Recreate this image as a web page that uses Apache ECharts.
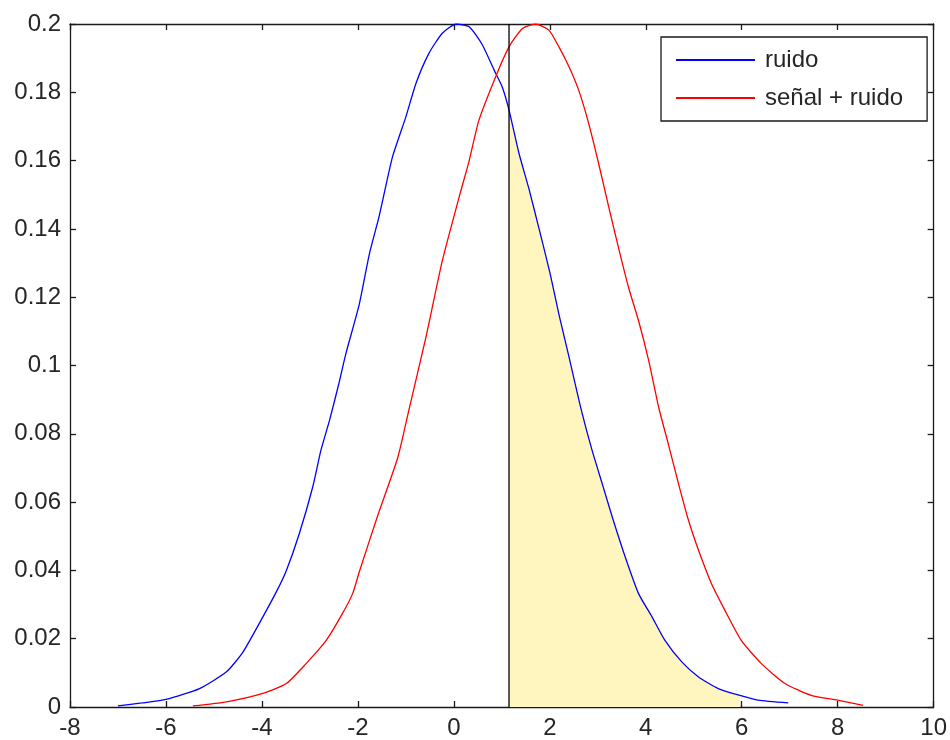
<!DOCTYPE html>
<html>
<head>
<meta charset="utf-8">
<script src="https://cdn.jsdelivr.net/npm/echarts@6/dist/echarts.min.js"></script>
<style>
html,body{margin:0;padding:0;background:#fff;}
#c{width:950px;height:740px;}
</style>
</head>
<body>
<div id="c"></div>
<script>
// ---- data ----
const seriesNames = ['ruido', 'señal + ruido'];
const blueX = [-7.0, -6.5, -6.0, -5.3, -4.74, -4.4, -3.98, -3.7, -3.49, -3.22, -2.94, -2.77, -2.59, -2.4, -2.25, -1.97, -1.76, -1.56, -1.28, -1.0, -0.79, -0.52, -0.24, 0.05, 0.32, 0.59, 0.84, 1.01, 1.15, 1.36, 1.56, 1.77, 2.01, 2.19, 2.40, 2.64, 2.88, 3.09, 3.30, 3.57, 3.85, 4.13, 4.40, 4.75, 5.10, 5.51, 5.96, 6.34, 6.97];
const blueY = [0.0003, 0.0012, 0.0022, 0.0054, 0.0103, 0.0160, 0.0264, 0.0337, 0.0400, 0.0508, 0.0645, 0.0752, 0.0840, 0.0945, 0.1035, 0.1180, 0.1327, 0.1435, 0.1610, 0.1728, 0.1826, 0.1914, 0.1973, 0.2000, 0.1992, 0.1940, 0.1865, 0.1815, 0.1748, 0.1620, 0.1520, 0.1404, 0.1267, 0.1150, 0.1025, 0.0879, 0.0752, 0.0655, 0.0557, 0.0440, 0.0332, 0.0264, 0.0195, 0.0132, 0.0088, 0.0054, 0.0034, 0.0020, 0.0012];
const redX = [-5.44, -4.74, -4.0, -3.49, -3.08, -2.66, -2.32, -2.11, -1.97, -1.6, -1.17, -0.93, -0.58, -0.24, 0.11, 0.32, 0.52, 0.87, 1.15, 1.43, 1.70, 1.98, 2.19, 2.40, 2.60, 2.81, 3.02, 3.23, 3.43, 3.64, 3.85, 4.06, 4.27, 4.47, 4.68, 4.89, 5.10, 5.37, 5.65, 5.99, 6.41, 6.90, 7.45, 8.0, 8.53];
const redY = [0.0003, 0.0015, 0.0039, 0.0069, 0.0127, 0.0195, 0.0274, 0.0332, 0.0396, 0.0555, 0.0730, 0.0874, 0.1084, 0.1307, 0.1493, 0.1600, 0.1717, 0.1845, 0.1933, 0.1987, 0.2000, 0.1982, 0.1933, 0.1875, 0.1807, 0.1709, 0.1590, 0.1463, 0.1346, 0.1229, 0.1131, 0.1015, 0.0877, 0.0770, 0.0655, 0.0547, 0.0459, 0.0361, 0.0283, 0.0195, 0.0127, 0.0069, 0.0034, 0.0020, 0.0005];
const thresholdX = 1.15;
const fillEndX = 5.96;
const xTicks = [-8, -6, -4, -2, 0, 2, 4, 6, 8, 10];
const yTicks = [0, 0.02, 0.04, 0.06, 0.08, 0.1, 0.12, 0.14, 0.16, 0.18, 0.2];

// ---- build ----
const bluePts = blueX.map((x, i) => [x, blueY[i]]);
const redPts = redX.map((x, i) => [x, redY[i]]);
const fillPts = bluePts.filter(p => p[0] >= thresholdX && p[0] <= fillEndX);
const vLine = [[thresholdX, yTicks[0]], [thresholdX, yTicks[yTicks.length - 1]]];

const FONT = 'Liberation Sans, Arial, sans-serif';
const labelFont = {color: '#262626', fontSize: 24, fontFamily: FONT};
const axLine = {show: true, onZero: false, lineStyle: {color: '#1a1a1a', width: 1.3}};
const tick = {show: true, inside: true, length: 6, lineStyle: {color: '#1a1a1a', width: 1.3}};

const xBase = {
  type: 'value', min: xTicks[0], max: xTicks[xTicks.length - 1], interval: xTicks[1] - xTicks[0],
  axisLine: axLine, axisTick: tick, splitLine: {show: false}
};
const yBase = {
  type: 'value', min: yTicks[0], max: yTicks[yTicks.length - 1], interval: 0.02,
  axisLine: axLine, axisTick: tick, splitLine: {show: false}
};

const chart = echarts.init(document.getElementById('c'), null, {renderer: 'canvas'});
chart.setOption({
  animation: false,
  backgroundColor: '#fff',
  grid: {left: 70, right: 12, top: 24, bottom: 33},
  legend: {
    data: seriesNames,
    orient: 'vertical',
    left: 661, top: 37,
    padding: [11, 24, 11, 15],
    itemGap: 14,
    itemWidth: 79, itemHeight: 2,
    icon: 'rect',
    borderColor: '#1a1a1a', borderWidth: 1.3,
    backgroundColor: '#fff',
    textStyle: {color: '#262626', fontSize: 24, fontFamily: FONT, padding: [0, 0, 0, 5]}
  },
  xAxis: [
    Object.assign({}, xBase, {position: 'bottom', axisLabel: Object.assign({margin: 9}, labelFont)}),
    Object.assign({}, xBase, {position: 'top', axisLabel: {show: false}})
  ],
  yAxis: [
    Object.assign({}, yBase, {position: 'left', axisLabel: Object.assign({margin: 9, formatter: v => String(+v.toFixed(2))}, labelFont)}),
    Object.assign({}, yBase, {position: 'right', axisLabel: {show: false}})
  ],
  series: [
    {
      name: 'fill', type: 'line', data: fillPts, showSymbol: false, z: 1, smooth: 0.2,
      lineStyle: {width: 0, opacity: 0},
      areaStyle: {color: '#FFF6BF', opacity: 1, origin: 'start'},
      silent: true
    },
    {
      name: seriesNames[0], type: 'line', data: bluePts, showSymbol: false, z: 3, smooth: 0.2,
      color: '#0000FF', lineStyle: {color: '#0000FF', width: 1.3}
    },
    {
      name: seriesNames[1], type: 'line', data: redPts, showSymbol: false, z: 3, smooth: 0.2,
      color: '#FF0000', lineStyle: {color: '#FF0000', width: 1.3}
    },
    {
      name: 'umbral', type: 'line', data: vLine, showSymbol: false, z: 4,
      color: '#000', lineStyle: {color: '#000', width: 1.3}
    }
  ]
});
</script>
</body>
</html>
